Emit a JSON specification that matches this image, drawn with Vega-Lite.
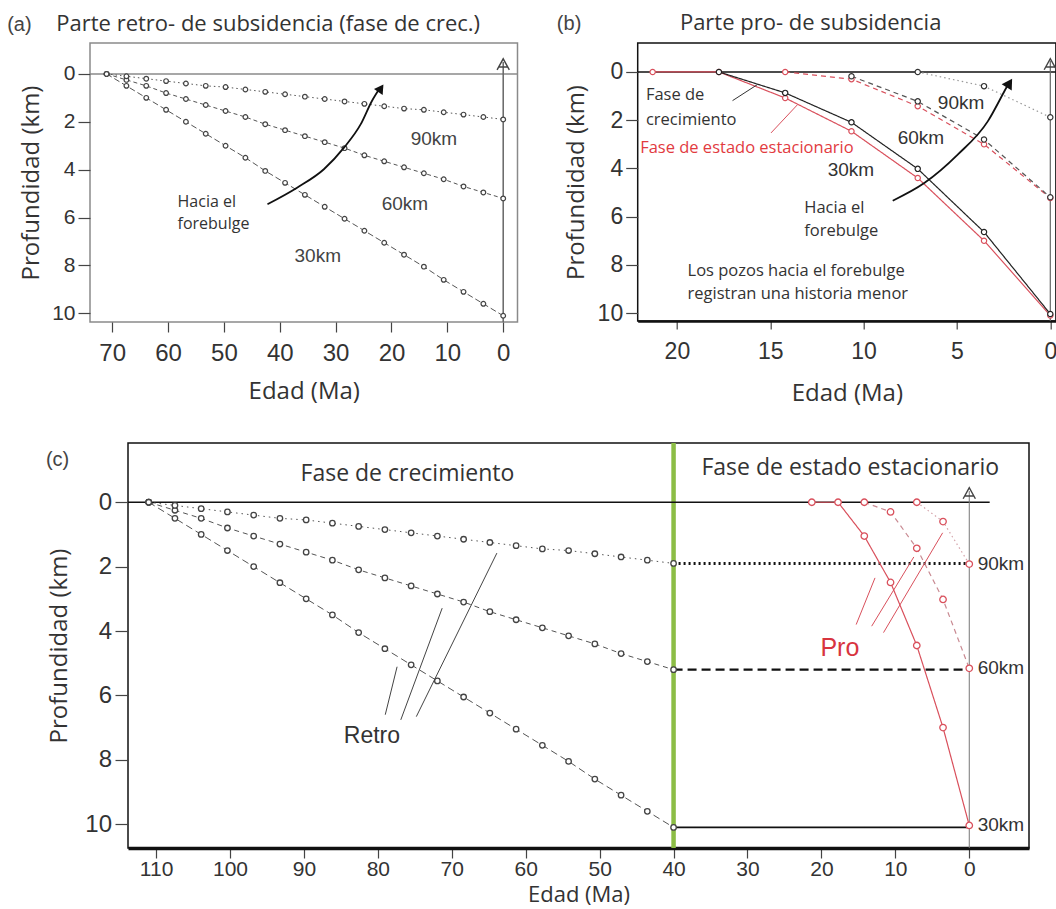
{
"$schema": "https://vega.github.io/schema/vega-lite/v6.json",
"padding": {"left": 6, "top": 11, "right": 0, "bottom": 0},
"autosize": {"type": "pad"},
"bounds": "flush",
"spacing": 400,
"config": {
  "font": "Liberation Sans",
  "view": {"stroke": "#111", "strokeWidth": 1.5},
  "axis": {"labelFont": "Liberation Sans", "labelColor": "#333", "titleFont": "Open Sans", "titleFontSize": 24, "titleFontWeight": "normal", "titleColor": "#333", "tickColor": "#444", "tickWidth": 1.2, "domain": false, "grid": false}
},
"datasets": {
  "retro": [
    {"well":"30km","age_a":71,"age_c":111,"depth":0},{"well":"30km","age_a":67.45,"age_c":107.45,"depth":0.5},{"well":"30km","age_a":63.9,"age_c":103.9,"depth":1.0},{"well":"30km","age_a":60.35,"age_c":100.35,"depth":1.5},{"well":"30km","age_a":56.8,"age_c":96.8,"depth":2.0},{"well":"30km","age_a":53.25,"age_c":93.25,"depth":2.5},{"well":"30km","age_a":49.7,"age_c":89.7,"depth":3.0},{"well":"30km","age_a":46.15,"age_c":86.15,"depth":3.5},{"well":"30km","age_a":42.6,"age_c":82.6,"depth":4.05},{"well":"30km","age_a":39.05,"age_c":79.05,"depth":4.55},{"well":"30km","age_a":35.5,"age_c":75.5,"depth":5.05},{"well":"30km","age_a":31.95,"age_c":71.95,"depth":5.55},{"well":"30km","age_a":28.4,"age_c":68.4,"depth":6.05},{"well":"30km","age_a":24.85,"age_c":64.85,"depth":6.55},{"well":"30km","age_a":21.3,"age_c":61.3,"depth":7.05},{"well":"30km","age_a":17.75,"age_c":57.75,"depth":7.55},{"well":"30km","age_a":14.2,"age_c":54.2,"depth":8.05},{"well":"30km","age_a":10.65,"age_c":50.65,"depth":8.6},{"well":"30km","age_a":7.1,"age_c":47.1,"depth":9.1},{"well":"30km","age_a":3.55,"age_c":43.55,"depth":9.6},{"well":"30km","age_a":0,"age_c":40,"depth":10.1},
    {"well":"60km","age_a":71,"age_c":111,"depth":0},{"well":"60km","age_a":67.45,"age_c":107.45,"depth":0.25},{"well":"60km","age_a":63.9,"age_c":103.9,"depth":0.5},{"well":"60km","age_a":60.35,"age_c":100.35,"depth":0.8},{"well":"60km","age_a":56.8,"age_c":96.8,"depth":1.05},{"well":"60km","age_a":53.25,"age_c":93.25,"depth":1.3},{"well":"60km","age_a":49.7,"age_c":89.7,"depth":1.55},{"well":"60km","age_a":46.15,"age_c":86.15,"depth":1.8},{"well":"60km","age_a":42.6,"age_c":82.6,"depth":2.1},{"well":"60km","age_a":39.05,"age_c":79.05,"depth":2.35},{"well":"60km","age_a":35.5,"age_c":75.5,"depth":2.6},{"well":"60km","age_a":31.95,"age_c":71.95,"depth":2.85},{"well":"60km","age_a":28.4,"age_c":68.4,"depth":3.1},{"well":"60km","age_a":24.85,"age_c":64.85,"depth":3.4},{"well":"60km","age_a":21.3,"age_c":61.3,"depth":3.65},{"well":"60km","age_a":17.75,"age_c":57.75,"depth":3.9},{"well":"60km","age_a":14.2,"age_c":54.2,"depth":4.15},{"well":"60km","age_a":10.65,"age_c":50.65,"depth":4.4},{"well":"60km","age_a":7.1,"age_c":47.1,"depth":4.7},{"well":"60km","age_a":3.55,"age_c":43.55,"depth":4.95},{"well":"60km","age_a":0,"age_c":40,"depth":5.2},
    {"well":"90km","age_a":71,"age_c":111,"depth":0},{"well":"90km","age_a":67.45,"age_c":107.45,"depth":0.1},{"well":"90km","age_a":63.9,"age_c":103.9,"depth":0.2},{"well":"90km","age_a":60.35,"age_c":100.35,"depth":0.3},{"well":"90km","age_a":56.8,"age_c":96.8,"depth":0.4},{"well":"90km","age_a":53.25,"age_c":93.25,"depth":0.5},{"well":"90km","age_a":49.7,"age_c":89.7,"depth":0.55},{"well":"90km","age_a":46.15,"age_c":86.15,"depth":0.65},{"well":"90km","age_a":42.6,"age_c":82.6,"depth":0.75},{"well":"90km","age_a":39.05,"age_c":79.05,"depth":0.85},{"well":"90km","age_a":35.5,"age_c":75.5,"depth":0.95},{"well":"90km","age_a":31.95,"age_c":71.95,"depth":1.05},{"well":"90km","age_a":28.4,"age_c":68.4,"depth":1.15},{"well":"90km","age_a":24.85,"age_c":64.85,"depth":1.25},{"well":"90km","age_a":21.3,"age_c":61.3,"depth":1.35},{"well":"90km","age_a":17.75,"age_c":57.75,"depth":1.45},{"well":"90km","age_a":14.2,"age_c":54.2,"depth":1.5},{"well":"90km","age_a":10.65,"age_c":50.65,"depth":1.6},{"well":"90km","age_a":7.1,"age_c":47.1,"depth":1.7},{"well":"90km","age_a":3.55,"age_c":43.55,"depth":1.8},{"well":"90km","age_a":0,"age_c":40,"depth":1.9}
  ],
  "pro": [
    {"panel":"b","line":"s30","age":21.3,"depth":0},{"panel":"b","line":"s30","age":17.75,"depth":0},{"panel":"b","line":"s30","age":14.2,"depth":1.08},{"panel":"b","line":"s30","age":10.65,"depth":2.46},{"panel":"b","line":"s30","age":7.1,"depth":4.4},{"panel":"b","line":"s30","age":3.55,"depth":7.0},{"panel":"b","line":"s30","age":0,"depth":10.1},
    {"panel":"b","line":"g30","age":17.75,"depth":0},{"panel":"b","line":"g30","age":14.2,"depth":0.87},{"panel":"b","line":"g30","age":10.65,"depth":2.09},{"panel":"b","line":"g30","age":7.1,"depth":4.02},{"panel":"b","line":"g30","age":3.55,"depth":6.64},{"panel":"b","line":"g30","age":0,"depth":10.04},
    {"panel":"b","line":"s60","age":14.2,"depth":0},{"panel":"b","line":"s60","age":10.65,"depth":0.3},{"panel":"b","line":"s60","age":7.1,"depth":1.42},{"panel":"b","line":"s60","age":3.55,"depth":3.0},{"panel":"b","line":"s60","age":0,"depth":5.23},
    {"panel":"b","line":"g60","age":10.65,"depth":0.18},{"panel":"b","line":"g60","age":7.1,"depth":1.22},{"panel":"b","line":"g60","age":3.55,"depth":2.8},{"panel":"b","line":"g60","age":0,"depth":5.2},
    {"panel":"b","line":"g90","age":7.1,"depth":0},{"panel":"b","line":"g90","age":3.55,"depth":0.59},{"panel":"b","line":"g90","age":0,"depth":1.88},
    {"panel":"c","line":"s30","age":21.3,"depth":0},{"panel":"c","line":"s30","age":17.75,"depth":0},{"panel":"c","line":"s30","age":14.2,"depth":1.05},{"panel":"c","line":"s30","age":10.65,"depth":2.49},{"panel":"c","line":"s30","age":7.1,"depth":4.45},{"panel":"c","line":"s30","age":3.55,"depth":7.0},{"panel":"c","line":"s30","age":0,"depth":10.04},
    {"panel":"c","line":"s60","age":14.2,"depth":0},{"panel":"c","line":"s60","age":10.65,"depth":0.3},{"panel":"c","line":"s60","age":7.1,"depth":1.43},{"panel":"c","line":"s60","age":3.55,"depth":3.02},{"panel":"c","line":"s60","age":0,"depth":5.16},
    {"panel":"c","line":"s90","age":7.1,"depth":0},{"panel":"c","line":"s90","age":3.55,"depth":0.6},{"panel":"c","line":"s90","age":0,"depth":1.92}
  ],
  "arrows": [
    {"panel":"a","ord":1,"age":42.2,"depth":5.44},{"panel":"a","ord":2,"age":36.9,"depth":4.75},{"panel":"a","ord":3,"age":32.1,"depth":3.98},{"panel":"a","ord":4,"age":28.5,"depth":3.08},{"panel":"a","ord":5,"age":25.5,"depth":2.1},{"panel":"a","ord":6,"age":23.5,"depth":1.13},{"panel":"a","ord":7,"age":22.1,"depth":0.6},
    {"panel":"b","ord":1,"age":8.44,"depth":5.34},{"panel":"b","ord":2,"age":6.75,"depth":4.61},{"panel":"b","ord":3,"age":4.96,"depth":3.43},{"panel":"b","ord":4,"age":3.35,"depth":2.05},{"panel":"b","ord":5,"age":2.46,"depth":0.8},{"panel":"b","ord":6,"age":2.25,"depth":0.5}
  ],
  "heads": [
    {"panel":"a","age":21.9,"depth":0.6},
    {"panel":"b","age":2.19,"depth":0.46}
  ],
  "leaders": [
    {"panel":"b","grp":"crec","a1":17.02,"d1":1.19,"a2":15.68,"d2":0.52},
    {"panel":"b","grp":"estac","a1":14.96,"d1":2.53,"a2":13.53,"d2":1.35},
    {"panel":"c","grp":"retro","a1":79.0,"d1":6.6,"a2":77.4,"d2":5.11},
    {"panel":"c","grp":"retro","a1":76.9,"d1":6.76,"a2":71.3,"d2":3.29},
    {"panel":"c","grp":"retro","a1":74.8,"d1":6.66,"a2":63.9,"d2":1.58},
    {"panel":"c","grp":"pro","a1":15.3,"d1":3.8,"a2":12.75,"d2":2.35},
    {"panel":"c","grp":"pro","a1":13.2,"d1":3.85,"a2":7.5,"d2":1.7},
    {"panel":"c","grp":"pro","a1":11.6,"d1":4.05,"a2":3.6,"d2":0.95}
  ],
  "hline": [
    {"well":"90km","a1":40,"a2":0,"depth":1.9},
    {"well":"60km","a1":40,"a2":0,"depth":5.2},
    {"well":"30km","a1":40,"a2":0,"depth":10.1}
  ],
  "notes": [
    {"panel":"a","grp":"tag","txt":"(a)","age":88.8,"depth":-1.8},
    {"panel":"a","grp":"title","txt":"Parte retro- de subsidencia (fase de crec.)","age":80.0,"depth":-1.8},
    {"panel":"a","grp":"km","txt":"90km","age":12.4,"depth":2.73},
    {"panel":"a","grp":"km","txt":"60km","age":17.6,"depth":5.44},
    {"panel":"a","grp":"km","txt":"30km","age":33.2,"depth":7.6},
    {"panel":"a","grp":"note","txt":"Hacia el","age":58.3,"depth":5.37},
    {"panel":"a","grp":"note","txt":"forebulge","age":58.3,"depth":6.28},
    {"panel":"b","grp":"tag","txt":"(b)","age":26.43,"depth":-1.73},
    {"panel":"b","grp":"title","txt":"Parte pro- de subsidencia","age":19.84,"depth":-1.73},
    {"panel":"b","grp":"note","txt":"Fase de","age":21.66,"depth":0.94},
    {"panel":"b","grp":"note","txt":"crecimiento","age":21.66,"depth":1.98},
    {"panel":"b","grp":"notered","txt":"Fase de estado estacionario","age":21.97,"depth":3.15},
    {"panel":"b","grp":"km","txt":"30km","age":10.68,"depth":4.05},
    {"panel":"b","grp":"km","txt":"60km","age":6.93,"depth":2.74},
    {"panel":"b","grp":"km","txt":"90km","age":4.78,"depth":1.29},
    {"panel":"b","grp":"note","txt":"Hacia el","age":13.18,"depth":5.64},
    {"panel":"b","grp":"note","txt":"forebulge","age":13.18,"depth":6.58},
    {"panel":"b","grp":"note","txt":"Los pozos hacia el forebulge","age":19.43,"depth":8.24},
    {"panel":"b","grp":"note","txt":"registran una historia menor","age":19.43,"depth":9.2},
    {"panel":"c","grp":"tag","txt":"(c)","age":124.9,"depth":-1.14},
    {"panel":"c","grp":"phase","txt":"Fase de crecimiento","age":76.0,"depth":-0.88},
    {"panel":"c","grp":"phase","txt":"Fase de estado estacionario","age":16.1,"depth":-1.07},
    {"panel":"c","grp":"retro","txt":"Retro","age":80.8,"depth":7.25},
    {"panel":"c","grp":"pro","txt":"Pro","age":17.5,"depth":4.53},
    {"panel":"c","grp":"kmc","txt":"90km","age":-1.14,"depth":1.92},
    {"panel":"c","grp":"kmc","txt":"60km","age":-1.14,"depth":5.16},
    {"panel":"c","grp":"kmc","txt":"30km","age":-1.14,"depth":10.04}
  ]
},
"vconcat": [
 {"hconcat": [
  {
   "width": 427.5, "height": 279,
   "view": {"stroke": "#8a8a8a", "strokeWidth": 1.5},
   "layer": [
    {"data": {"values": [{}]}, "mark": {"type": "rule", "color": "#8a8a8a", "strokeWidth": 1.5},
     "encoding": {"y": {"datum": 0, "type": "quantitative", "scale": {"domain": [-1.29, 10.36], "reverse": true, "nice": false, "zero": false}, "axis": {"values": [0,2,4,6,8,10], "title": "Profundidad (km)", "labelFontSize": 21, "tickSize": 12, "labelPadding": 3, "titlePadding": 8, "labelOverlap": false}}}},
    {"data": {"values": [{}]}, "mark": {"type": "rule", "color": "#666", "strokeWidth": 1.5},
     "encoding": {"x": {"datum": 0, "type": "quantitative", "scale": {"domain": [-2.56, 73.97], "reverse": true, "nice": false, "zero": false}, "axis": {"values": [70,60,50,40,30,20,10,0], "title": "Edad (Ma)", "labelFontSize": 24, "tickSize": 10, "labelPadding": 9, "titlePadding": 14, "labelFlush": false, "labelOverlap": false}},
      "y": {"datum": -0.5, "type": "quantitative", "scale": {"domain": [-1.29, 10.36], "reverse": true, "nice": false, "zero": false}, "axis": {"values": [0,2,4,6,8,10], "title": "Profundidad (km)", "labelFontSize": 21, "tickSize": 12, "labelPadding": 3, "titlePadding": 8, "labelOverlap": false}},
      "y2": {"datum": 10.36}}},
    {"data": {"values": [{}]}, "mark": {"type": "point", "shape": "M-1,0.9L0,-0.9L1,0.9M-0.8,0.45L0.8,0.45", "filled": false, "stroke": "#444", "strokeWidth": 1.4, "size": 150, "opacity": 1},
     "encoding": {"x": {"datum": 0, "type": "quantitative", "scale": {"domain": [-2.56, 73.97], "reverse": true, "nice": false, "zero": false}, "axis": {"values": [70,60,50,40,30,20,10,0], "title": "Edad (Ma)", "labelFontSize": 24, "tickSize": 10, "labelPadding": 9, "titlePadding": 14, "labelFlush": false, "labelOverlap": false}},
      "y": {"datum": -0.4, "type": "quantitative", "scale": {"domain": [-1.29, 10.36], "reverse": true, "nice": false, "zero": false}, "axis": {"values": [0,2,4,6,8,10], "title": "Profundidad (km)", "labelFontSize": 21, "tickSize": 12, "labelPadding": 3, "titlePadding": 8, "labelOverlap": false}}}},
    {"data": {"name": "retro"}, "mark": {"type": "line", "color": "#555", "strokeWidth": 1},
     "encoding": {"x": {"field": "age_a", "type": "quantitative", "scale": {"domain": [-2.56, 73.97], "reverse": true, "nice": false, "zero": false}, "axis": {"values": [70,60,50,40,30,20,10,0], "title": "Edad (Ma)", "labelFontSize": 24, "tickSize": 10, "labelPadding": 9, "titlePadding": 14, "labelFlush": false, "labelOverlap": false}},
      "y": {"field": "depth", "type": "quantitative", "scale": {"domain": [-1.29, 10.36], "reverse": true, "nice": false, "zero": false}, "axis": {"values": [0,2,4,6,8,10], "title": "Profundidad (km)", "labelFontSize": 21, "tickSize": 12, "labelPadding": 3, "titlePadding": 8, "labelOverlap": false}},
      "strokeDash": {"field": "well", "type": "nominal", "scale": {"domain": ["30km","60km","90km"], "range": [[6,3],[4,3],[1.5,3]]}, "legend": null}}},
    {"data": {"name": "retro"}, "mark": {"type": "point", "shape": "circle", "filled": true, "fill": "white", "stroke": "#444", "strokeWidth": 1.2, "size": 22, "opacity": 1},
     "encoding": {"x": {"field": "age_a", "type": "quantitative", "scale": {"domain": [-2.56, 73.97], "reverse": true, "nice": false, "zero": false}, "axis": {"values": [70,60,50,40,30,20,10,0], "title": "Edad (Ma)", "labelFontSize": 24, "tickSize": 10, "labelPadding": 9, "titlePadding": 14, "labelFlush": false, "labelOverlap": false}},
      "y": {"field": "depth", "type": "quantitative", "scale": {"domain": [-1.29, 10.36], "reverse": true, "nice": false, "zero": false}, "axis": {"values": [0,2,4,6,8,10], "title": "Profundidad (km)", "labelFontSize": 21, "tickSize": 12, "labelPadding": 3, "titlePadding": 8, "labelOverlap": false}}}},
    {"data": {"name": "arrows"}, "transform": [{"filter": "datum.panel === 'a'"}], "mark": {"type": "line", "color": "#111", "strokeWidth": 1.8, "interpolate": "monotone"},
     "encoding": {"x": {"field": "age", "type": "quantitative", "scale": {"domain": [-2.56, 73.97], "reverse": true, "nice": false, "zero": false}, "axis": {"values": [70,60,50,40,30,20,10,0], "title": "Edad (Ma)", "labelFontSize": 24, "tickSize": 10, "labelPadding": 9, "titlePadding": 14, "labelFlush": false, "labelOverlap": false}},
      "y": {"field": "depth", "type": "quantitative", "scale": {"domain": [-1.29, 10.36], "reverse": true, "nice": false, "zero": false}, "axis": {"values": [0,2,4,6,8,10], "title": "Profundidad (km)", "labelFontSize": 21, "tickSize": 12, "labelPadding": 3, "titlePadding": 8, "labelOverlap": false}},
      "order": {"field": "ord", "type": "quantitative"}}},
    {"data": {"name": "heads"}, "transform": [{"filter": "datum.panel === 'a'"}], "mark": {"type": "point", "shape": "triangle-up", "filled": true, "color": "#111", "size": 110, "angle": 34, "opacity": 1},
     "encoding": {"x": {"field": "age", "type": "quantitative", "scale": {"domain": [-2.56, 73.97], "reverse": true, "nice": false, "zero": false}, "axis": {"values": [70,60,50,40,30,20,10,0], "title": "Edad (Ma)", "labelFontSize": 24, "tickSize": 10, "labelPadding": 9, "titlePadding": 14, "labelFlush": false, "labelOverlap": false}},
      "y": {"field": "depth", "type": "quantitative", "scale": {"domain": [-1.29, 10.36], "reverse": true, "nice": false, "zero": false}, "axis": {"values": [0,2,4,6,8,10], "title": "Profundidad (km)", "labelFontSize": 21, "tickSize": 12, "labelPadding": 3, "titlePadding": 8, "labelOverlap": false}}}},
    {"data": {"name": "notes"}, "transform": [{"filter": "datum.panel === 'a' && datum.grp === 'km'"}], "mark": {"type": "text", "font": "Liberation Sans", "fontSize": 19, "color": "#444", "align": "center", "baseline": "middle"},
     "encoding": {"x": {"field": "age", "type": "quantitative", "scale": {"domain": [-2.56, 73.97], "reverse": true, "nice": false, "zero": false}, "axis": {"values": [70,60,50,40,30,20,10,0], "title": "Edad (Ma)", "labelFontSize": 24, "tickSize": 10, "labelPadding": 9, "titlePadding": 14, "labelFlush": false, "labelOverlap": false}},
      "y": {"field": "depth", "type": "quantitative", "scale": {"domain": [-1.29, 10.36], "reverse": true, "nice": false, "zero": false}, "axis": {"values": [0,2,4,6,8,10], "title": "Profundidad (km)", "labelFontSize": 21, "tickSize": 12, "labelPadding": 3, "titlePadding": 8, "labelOverlap": false}},
      "text": {"field": "txt"}}},
    {"data": {"name": "notes"}, "transform": [{"filter": "datum.panel === 'a' && datum.grp === 'note'"}], "mark": {"type": "text", "font": "Open Sans", "fontSize": 16, "color": "#333", "align": "left", "baseline": "middle"},
     "encoding": {"x": {"field": "age", "type": "quantitative", "scale": {"domain": [-2.56, 73.97], "reverse": true, "nice": false, "zero": false}, "axis": {"values": [70,60,50,40,30,20,10,0], "title": "Edad (Ma)", "labelFontSize": 24, "tickSize": 10, "labelPadding": 9, "titlePadding": 14, "labelFlush": false, "labelOverlap": false}},
      "y": {"field": "depth", "type": "quantitative", "scale": {"domain": [-1.29, 10.36], "reverse": true, "nice": false, "zero": false}, "axis": {"values": [0,2,4,6,8,10], "title": "Profundidad (km)", "labelFontSize": 21, "tickSize": 12, "labelPadding": 3, "titlePadding": 8, "labelOverlap": false}},
      "text": {"field": "txt"}}},
    {"data": {"name": "notes"}, "transform": [{"filter": "datum.panel === 'a' && datum.grp === 'title'"}], "mark": {"type": "text", "font": "Open Sans", "fontSize": 22, "color": "#333", "align": "left", "baseline": "alphabetic"},
     "encoding": {"x": {"field": "age", "type": "quantitative", "scale": {"domain": [-2.56, 73.97], "reverse": true, "nice": false, "zero": false}, "axis": {"values": [70,60,50,40,30,20,10,0], "title": "Edad (Ma)", "labelFontSize": 24, "tickSize": 10, "labelPadding": 9, "titlePadding": 14, "labelFlush": false, "labelOverlap": false}},
      "y": {"field": "depth", "type": "quantitative", "scale": {"domain": [-1.29, 10.36], "reverse": true, "nice": false, "zero": false}, "axis": {"values": [0,2,4,6,8,10], "title": "Profundidad (km)", "labelFontSize": 21, "tickSize": 12, "labelPadding": 3, "titlePadding": 8, "labelOverlap": false}},
      "text": {"field": "txt"}}},
    {"data": {"name": "notes"}, "transform": [{"filter": "datum.panel === 'a' && datum.grp === 'tag'"}], "mark": {"type": "text", "font": "Liberation Sans", "fontSize": 20, "color": "#444", "align": "left", "baseline": "alphabetic"},
     "encoding": {"x": {"field": "age", "type": "quantitative", "scale": {"domain": [-2.56, 73.97], "reverse": true, "nice": false, "zero": false}, "axis": {"values": [70,60,50,40,30,20,10,0], "title": "Edad (Ma)", "labelFontSize": 24, "tickSize": 10, "labelPadding": 9, "titlePadding": 14, "labelFlush": false, "labelOverlap": false}},
      "y": {"field": "depth", "type": "quantitative", "scale": {"domain": [-1.29, 10.36], "reverse": true, "nice": false, "zero": false}, "axis": {"values": [0,2,4,6,8,10], "title": "Profundidad (km)", "labelFontSize": 21, "tickSize": 12, "labelPadding": 3, "titlePadding": 8, "labelOverlap": false}},
      "text": {"field": "txt"}}}
   ]
  },
  {
   "width": 418.2, "height": 278,
   "view": {"stroke": "#111", "strokeWidth": 1.5},
   "resolve": {"scale": {"color": "independent", "stroke": "independent", "strokeDash": "independent"}},
   "layer": [
    {"data": {"values": [{}]}, "mark": {"type": "rule", "color": "#111", "strokeWidth": 1.5},
     "encoding": {"y": {"datum": 0, "type": "quantitative", "scale": {"domain": [-1.2, 10.33], "reverse": true, "nice": false, "zero": false}, "axis": {"values": [0,2,4,6,8,10], "title": "Profundidad (km)", "labelFontSize": 23, "tickSize": 12, "labelPadding": 3, "titlePadding": 9, "labelOverlap": false}}}},
    {"data": {"values": [{}]}, "mark": {"type": "rule", "color": "#666", "strokeWidth": 1.2},
     "encoding": {"x": {"datum": 0, "type": "quantitative", "scale": {"domain": [-0.3, 22.1], "reverse": true, "nice": false, "zero": false}, "axis": {"values": [20,15,10,5,0], "title": "Edad (Ma)", "labelFontSize": 23, "tickSize": 8, "labelPadding": 11, "titlePadding": 18, "labelFlush": false, "labelOverlap": false, "domain": true, "domainColor": "#111", "domainWidth": 2.5}},
      "y": {"datum": -0.45, "type": "quantitative", "scale": {"domain": [-1.2, 10.33], "reverse": true, "nice": false, "zero": false}, "axis": {"values": [0,2,4,6,8,10], "title": "Profundidad (km)", "labelFontSize": 23, "tickSize": 12, "labelPadding": 3, "titlePadding": 9, "labelOverlap": false}},
      "y2": {"datum": 10.33}}},
    {"data": {"values": [{}]}, "mark": {"type": "point", "shape": "M-1,0.9L0,-0.9L1,0.9M-0.8,0.45L0.8,0.45", "filled": false, "stroke": "#444", "strokeWidth": 1.4, "size": 150, "opacity": 1},
     "encoding": {"x": {"datum": 0, "type": "quantitative", "scale": {"domain": [-0.3, 22.1], "reverse": true, "nice": false, "zero": false}, "axis": {"values": [20,15,10,5,0], "title": "Edad (Ma)", "labelFontSize": 23, "tickSize": 8, "labelPadding": 11, "titlePadding": 18, "labelFlush": false, "labelOverlap": false, "domain": true, "domainColor": "#111", "domainWidth": 2.5}},
      "y": {"datum": -0.32, "type": "quantitative", "scale": {"domain": [-1.2, 10.33], "reverse": true, "nice": false, "zero": false}, "axis": {"values": [0,2,4,6,8,10], "title": "Profundidad (km)", "labelFontSize": 23, "tickSize": 12, "labelPadding": 3, "titlePadding": 9, "labelOverlap": false}}}},
    {"data": {"name": "pro"}, "transform": [{"filter": "datum.panel === 'b'"}], "mark": {"type": "line", "strokeWidth": 1.2},
     "encoding": {"x": {"field": "age", "type": "quantitative", "scale": {"domain": [-0.3, 22.1], "reverse": true, "nice": false, "zero": false}, "axis": {"values": [20,15,10,5,0], "title": "Edad (Ma)", "labelFontSize": 23, "tickSize": 8, "labelPadding": 11, "titlePadding": 18, "labelFlush": false, "labelOverlap": false, "domain": true, "domainColor": "#111", "domainWidth": 2.5}},
      "y": {"field": "depth", "type": "quantitative", "scale": {"domain": [-1.2, 10.33], "reverse": true, "nice": false, "zero": false}, "axis": {"values": [0,2,4,6,8,10], "title": "Profundidad (km)", "labelFontSize": 23, "tickSize": 12, "labelPadding": 3, "titlePadding": 9, "labelOverlap": false}},
      "color": {"field": "line", "type": "nominal", "scale": {"domain": ["s30","g30","s60","g60","g90"], "range": ["#d9505c","#222222","#d9505c","#555555","#999999"]}, "legend": null},
      "strokeDash": {"field": "line", "type": "nominal", "scale": {"domain": ["s30","g30","s60","g60","g90"], "range": [[1,0],[1,0],[5,4],[5,4],[1.5,3]]}, "legend": null}}},
    {"data": {"name": "pro"}, "transform": [{"filter": "datum.panel === 'b'"}], "mark": {"type": "point", "shape": "circle", "filled": true, "fill": "white", "strokeWidth": 1.2, "size": 28, "opacity": 1},
     "encoding": {"x": {"field": "age", "type": "quantitative", "scale": {"domain": [-0.3, 22.1], "reverse": true, "nice": false, "zero": false}, "axis": {"values": [20,15,10,5,0], "title": "Edad (Ma)", "labelFontSize": 23, "tickSize": 8, "labelPadding": 11, "titlePadding": 18, "labelFlush": false, "labelOverlap": false, "domain": true, "domainColor": "#111", "domainWidth": 2.5}},
      "y": {"field": "depth", "type": "quantitative", "scale": {"domain": [-1.2, 10.33], "reverse": true, "nice": false, "zero": false}, "axis": {"values": [0,2,4,6,8,10], "title": "Profundidad (km)", "labelFontSize": 23, "tickSize": 12, "labelPadding": 3, "titlePadding": 9, "labelOverlap": false}},
      "stroke": {"field": "line", "type": "nominal", "scale": {"domain": ["s30","g30","s60","g60","g90"], "range": ["#d9505c","#222222","#d9505c","#333333","#333333"]}, "legend": null}}},
    {"data": {"name": "leaders"}, "transform": [{"filter": "datum.panel === 'b'"}], "mark": {"type": "rule", "strokeWidth": 1},
     "encoding": {"x": {"field": "a1", "type": "quantitative", "scale": {"domain": [-0.3, 22.1], "reverse": true, "nice": false, "zero": false}, "axis": {"values": [20,15,10,5,0], "title": "Edad (Ma)", "labelFontSize": 23, "tickSize": 8, "labelPadding": 11, "titlePadding": 18, "labelFlush": false, "labelOverlap": false, "domain": true, "domainColor": "#111", "domainWidth": 2.5}},
      "y": {"field": "d1", "type": "quantitative", "scale": {"domain": [-1.2, 10.33], "reverse": true, "nice": false, "zero": false}, "axis": {"values": [0,2,4,6,8,10], "title": "Profundidad (km)", "labelFontSize": 23, "tickSize": 12, "labelPadding": 3, "titlePadding": 9, "labelOverlap": false}},
      "x2": {"field": "a2"}, "y2": {"field": "d2"},
      "color": {"field": "grp", "type": "nominal", "scale": {"domain": ["crec","estac"], "range": ["#333333","#d9505c"]}, "legend": null}}},
    {"data": {"name": "arrows"}, "transform": [{"filter": "datum.panel === 'b'"}], "mark": {"type": "line", "color": "#111", "strokeWidth": 1.8, "interpolate": "monotone"},
     "encoding": {"x": {"field": "age", "type": "quantitative", "scale": {"domain": [-0.3, 22.1], "reverse": true, "nice": false, "zero": false}, "axis": {"values": [20,15,10,5,0], "title": "Edad (Ma)", "labelFontSize": 23, "tickSize": 8, "labelPadding": 11, "titlePadding": 18, "labelFlush": false, "labelOverlap": false, "domain": true, "domainColor": "#111", "domainWidth": 2.5}},
      "y": {"field": "depth", "type": "quantitative", "scale": {"domain": [-1.2, 10.33], "reverse": true, "nice": false, "zero": false}, "axis": {"values": [0,2,4,6,8,10], "title": "Profundidad (km)", "labelFontSize": 23, "tickSize": 12, "labelPadding": 3, "titlePadding": 9, "labelOverlap": false}},
      "order": {"field": "ord", "type": "quantitative"}}},
    {"data": {"name": "heads"}, "transform": [{"filter": "datum.panel === 'b'"}], "mark": {"type": "point", "shape": "triangle-up", "filled": true, "color": "#111", "size": 140, "angle": 32, "opacity": 1},
     "encoding": {"x": {"field": "age", "type": "quantitative", "scale": {"domain": [-0.3, 22.1], "reverse": true, "nice": false, "zero": false}, "axis": {"values": [20,15,10,5,0], "title": "Edad (Ma)", "labelFontSize": 23, "tickSize": 8, "labelPadding": 11, "titlePadding": 18, "labelFlush": false, "labelOverlap": false, "domain": true, "domainColor": "#111", "domainWidth": 2.5}},
      "y": {"field": "depth", "type": "quantitative", "scale": {"domain": [-1.2, 10.33], "reverse": true, "nice": false, "zero": false}, "axis": {"values": [0,2,4,6,8,10], "title": "Profundidad (km)", "labelFontSize": 23, "tickSize": 12, "labelPadding": 3, "titlePadding": 9, "labelOverlap": false}}}},
    {"data": {"name": "notes"}, "transform": [{"filter": "datum.panel === 'b' && datum.grp === 'km'"}], "mark": {"type": "text", "font": "Liberation Sans", "fontSize": 19, "color": "#333", "align": "center", "baseline": "middle"},
     "encoding": {"x": {"field": "age", "type": "quantitative", "scale": {"domain": [-0.3, 22.1], "reverse": true, "nice": false, "zero": false}, "axis": {"values": [20,15,10,5,0], "title": "Edad (Ma)", "labelFontSize": 23, "tickSize": 8, "labelPadding": 11, "titlePadding": 18, "labelFlush": false, "labelOverlap": false, "domain": true, "domainColor": "#111", "domainWidth": 2.5}},
      "y": {"field": "depth", "type": "quantitative", "scale": {"domain": [-1.2, 10.33], "reverse": true, "nice": false, "zero": false}, "axis": {"values": [0,2,4,6,8,10], "title": "Profundidad (km)", "labelFontSize": 23, "tickSize": 12, "labelPadding": 3, "titlePadding": 9, "labelOverlap": false}},
      "text": {"field": "txt"}}},
    {"data": {"name": "notes"}, "transform": [{"filter": "datum.panel === 'b' && datum.grp === 'note'"}], "mark": {"type": "text", "font": "Open Sans", "fontSize": 16.5, "color": "#333", "align": "left", "baseline": "middle"},
     "encoding": {"x": {"field": "age", "type": "quantitative", "scale": {"domain": [-0.3, 22.1], "reverse": true, "nice": false, "zero": false}, "axis": {"values": [20,15,10,5,0], "title": "Edad (Ma)", "labelFontSize": 23, "tickSize": 8, "labelPadding": 11, "titlePadding": 18, "labelFlush": false, "labelOverlap": false, "domain": true, "domainColor": "#111", "domainWidth": 2.5}},
      "y": {"field": "depth", "type": "quantitative", "scale": {"domain": [-1.2, 10.33], "reverse": true, "nice": false, "zero": false}, "axis": {"values": [0,2,4,6,8,10], "title": "Profundidad (km)", "labelFontSize": 23, "tickSize": 12, "labelPadding": 3, "titlePadding": 9, "labelOverlap": false}},
      "text": {"field": "txt"}}},
    {"data": {"name": "notes"}, "transform": [{"filter": "datum.panel === 'b' && datum.grp === 'notered'"}], "mark": {"type": "text", "font": "Open Sans", "fontSize": 16.5, "color": "#e23b3f", "align": "left", "baseline": "middle"},
     "encoding": {"x": {"field": "age", "type": "quantitative", "scale": {"domain": [-0.3, 22.1], "reverse": true, "nice": false, "zero": false}, "axis": {"values": [20,15,10,5,0], "title": "Edad (Ma)", "labelFontSize": 23, "tickSize": 8, "labelPadding": 11, "titlePadding": 18, "labelFlush": false, "labelOverlap": false, "domain": true, "domainColor": "#111", "domainWidth": 2.5}},
      "y": {"field": "depth", "type": "quantitative", "scale": {"domain": [-1.2, 10.33], "reverse": true, "nice": false, "zero": false}, "axis": {"values": [0,2,4,6,8,10], "title": "Profundidad (km)", "labelFontSize": 23, "tickSize": 12, "labelPadding": 3, "titlePadding": 9, "labelOverlap": false}},
      "text": {"field": "txt"}}},
    {"data": {"name": "notes"}, "transform": [{"filter": "datum.panel === 'b' && datum.grp === 'title'"}], "mark": {"type": "text", "font": "Open Sans", "fontSize": 22, "color": "#333", "align": "left", "baseline": "alphabetic"},
     "encoding": {"x": {"field": "age", "type": "quantitative", "scale": {"domain": [-0.3, 22.1], "reverse": true, "nice": false, "zero": false}, "axis": {"values": [20,15,10,5,0], "title": "Edad (Ma)", "labelFontSize": 23, "tickSize": 8, "labelPadding": 11, "titlePadding": 18, "labelFlush": false, "labelOverlap": false, "domain": true, "domainColor": "#111", "domainWidth": 2.5}},
      "y": {"field": "depth", "type": "quantitative", "scale": {"domain": [-1.2, 10.33], "reverse": true, "nice": false, "zero": false}, "axis": {"values": [0,2,4,6,8,10], "title": "Profundidad (km)", "labelFontSize": 23, "tickSize": 12, "labelPadding": 3, "titlePadding": 9, "labelOverlap": false}},
      "text": {"field": "txt"}}},
    {"data": {"name": "notes"}, "transform": [{"filter": "datum.panel === 'b' && datum.grp === 'tag'"}], "mark": {"type": "text", "font": "Liberation Sans", "fontSize": 20, "color": "#444", "align": "left", "baseline": "alphabetic"},
     "encoding": {"x": {"field": "age", "type": "quantitative", "scale": {"domain": [-0.3, 22.1], "reverse": true, "nice": false, "zero": false}, "axis": {"values": [20,15,10,5,0], "title": "Edad (Ma)", "labelFontSize": 23, "tickSize": 8, "labelPadding": 11, "titlePadding": 18, "labelFlush": false, "labelOverlap": false, "domain": true, "domainColor": "#111", "domainWidth": 2.5}},
      "y": {"field": "depth", "type": "quantitative", "scale": {"domain": [-1.2, 10.33], "reverse": true, "nice": false, "zero": false}, "axis": {"values": [0,2,4,6,8,10], "title": "Profundidad (km)", "labelFontSize": 23, "tickSize": 12, "labelPadding": 3, "titlePadding": 9, "labelOverlap": false}},
      "text": {"field": "txt"}}}
   ]
  }
 ], "spacing": 119.7, "bounds": "flush"},
 {"hconcat": [
  {"width": 1.2, "height": 10, "view": {"stroke": null}, "data": {"values": [{}]}, "mark": {"type": "text", "text": ""}, "encoding": {}},
  {
   "width": 901, "height": 405,
   "view": {"stroke": "#111", "strokeWidth": 1.5},
   "resolve": {"scale": {"color": "independent", "stroke": "independent", "strokeDash": "independent", "strokeWidth": "independent"}},
   "layer": [
    {"data": {"values": [{}]}, "mark": {"type": "rule", "color": "#8cbd45", "strokeWidth": 4.5},
     "encoding": {"x": {"datum": 40, "type": "quantitative", "scale": {"domain": [-8.08, 113.8], "reverse": true, "nice": false, "zero": false}, "axis": {"values": [110,100,90,80,70,60,50,40,30,20,10,0], "title": "Edad (Ma)", "labelFontSize": 21, "tickSize": 10, "labelPadding": 0, "titlePadding": 5, "titleFontSize": 22, "labelFlush": false, "labelOverlap": false, "domain": true, "domainColor": "#111", "domainWidth": 3.5}}}},
    {"data": {"values": [{}]}, "mark": {"type": "rule", "color": "#111", "strokeWidth": 1.5},
     "encoding": {"x": {"datum": 113.8, "type": "quantitative", "scale": {"domain": [-8.08, 113.8], "reverse": true, "nice": false, "zero": false}, "axis": {"values": [110,100,90,80,70,60,50,40,30,20,10,0], "title": "Edad (Ma)", "labelFontSize": 21, "tickSize": 10, "labelPadding": 0, "titlePadding": 5, "titleFontSize": 22, "labelFlush": false, "labelOverlap": false, "domain": true, "domainColor": "#111", "domainWidth": 3.5}},
      "x2": {"datum": -2.76},
      "y": {"datum": 0, "type": "quantitative", "scale": {"domain": [-1.84, 10.74], "reverse": true, "nice": false, "zero": false}, "axis": {"values": [0,2,4,6,8,10], "title": "Profundidad (km)", "labelFontSize": 24, "tickSize": 13, "labelPadding": 3.5, "titlePadding": 13, "labelOverlap": false}}}},
    {"data": {"values": [{}]}, "mark": {"type": "rule", "color": "#777", "strokeWidth": 1},
     "encoding": {"x": {"datum": 0, "type": "quantitative", "scale": {"domain": [-8.08, 113.8], "reverse": true, "nice": false, "zero": false}, "axis": {"values": [110,100,90,80,70,60,50,40,30,20,10,0], "title": "Edad (Ma)", "labelFontSize": 21, "tickSize": 10, "labelPadding": 0, "titlePadding": 5, "titleFontSize": 22, "labelFlush": false, "labelOverlap": false, "domain": true, "domainColor": "#111", "domainWidth": 3.5}},
      "y": {"datum": -0.35, "type": "quantitative", "scale": {"domain": [-1.84, 10.74], "reverse": true, "nice": false, "zero": false}, "axis": {"values": [0,2,4,6,8,10], "title": "Profundidad (km)", "labelFontSize": 24, "tickSize": 13, "labelPadding": 3.5, "titlePadding": 13, "labelOverlap": false}},
      "y2": {"datum": 10.74}}},
    {"data": {"values": [{}]}, "mark": {"type": "point", "shape": "M-1,0.9L0,-0.9L1,0.9M-0.8,0.45L0.8,0.45", "filled": false, "stroke": "#444", "strokeWidth": 1.4, "size": 150, "opacity": 1},
     "encoding": {"x": {"datum": 0, "type": "quantitative", "scale": {"domain": [-8.08, 113.8], "reverse": true, "nice": false, "zero": false}, "axis": {"values": [110,100,90,80,70,60,50,40,30,20,10,0], "title": "Edad (Ma)", "labelFontSize": 21, "tickSize": 10, "labelPadding": 0, "titlePadding": 5, "titleFontSize": 22, "labelFlush": false, "labelOverlap": false, "domain": true, "domainColor": "#111", "domainWidth": 3.5}},
      "y": {"datum": -0.28, "type": "quantitative", "scale": {"domain": [-1.84, 10.74], "reverse": true, "nice": false, "zero": false}, "axis": {"values": [0,2,4,6,8,10], "title": "Profundidad (km)", "labelFontSize": 24, "tickSize": 13, "labelPadding": 3.5, "titlePadding": 13, "labelOverlap": false}}}},
    {"data": {"name": "hline"}, "mark": {"type": "rule", "color": "#111"},
     "encoding": {"x": {"field": "a1", "type": "quantitative", "scale": {"domain": [-8.08, 113.8], "reverse": true, "nice": false, "zero": false}, "axis": {"values": [110,100,90,80,70,60,50,40,30,20,10,0], "title": "Edad (Ma)", "labelFontSize": 21, "tickSize": 10, "labelPadding": 0, "titlePadding": 5, "titleFontSize": 22, "labelFlush": false, "labelOverlap": false, "domain": true, "domainColor": "#111", "domainWidth": 3.5}},
      "x2": {"field": "a2"},
      "y": {"field": "depth", "type": "quantitative", "scale": {"domain": [-1.84, 10.74], "reverse": true, "nice": false, "zero": false}, "axis": {"values": [0,2,4,6,8,10], "title": "Profundidad (km)", "labelFontSize": 24, "tickSize": 13, "labelPadding": 3.5, "titlePadding": 13, "labelOverlap": false}},
      "strokeDash": {"field": "well", "type": "nominal", "scale": {"domain": ["30km","60km","90km"], "range": [[1,0],[9,5],[2,3]]}, "legend": null},
      "strokeWidth": {"field": "well", "type": "nominal", "scale": {"domain": ["30km","60km","90km"], "range": [1.6,3,2.2]}, "legend": null}}},
    {"data": {"name": "retro"}, "mark": {"type": "line", "color": "#555", "strokeWidth": 1},
     "encoding": {"x": {"field": "age_c", "type": "quantitative", "scale": {"domain": [-8.08, 113.8], "reverse": true, "nice": false, "zero": false}, "axis": {"values": [110,100,90,80,70,60,50,40,30,20,10,0], "title": "Edad (Ma)", "labelFontSize": 21, "tickSize": 10, "labelPadding": 0, "titlePadding": 5, "titleFontSize": 22, "labelFlush": false, "labelOverlap": false, "domain": true, "domainColor": "#111", "domainWidth": 3.5}},
      "y": {"field": "depth", "type": "quantitative", "scale": {"domain": [-1.84, 10.74], "reverse": true, "nice": false, "zero": false}, "axis": {"values": [0,2,4,6,8,10], "title": "Profundidad (km)", "labelFontSize": 24, "tickSize": 13, "labelPadding": 3.5, "titlePadding": 13, "labelOverlap": false}},
      "strokeDash": {"field": "well", "type": "nominal", "scale": {"domain": ["30km","60km","90km"], "range": [[7,4],[5,4],[1.5,4]]}, "legend": null}}},
    {"data": {"name": "retro"}, "mark": {"type": "point", "shape": "circle", "filled": true, "fill": "white", "stroke": "#444", "strokeWidth": 1.3, "size": 30, "opacity": 1},
     "encoding": {"x": {"field": "age_c", "type": "quantitative", "scale": {"domain": [-8.08, 113.8], "reverse": true, "nice": false, "zero": false}, "axis": {"values": [110,100,90,80,70,60,50,40,30,20,10,0], "title": "Edad (Ma)", "labelFontSize": 21, "tickSize": 10, "labelPadding": 0, "titlePadding": 5, "titleFontSize": 22, "labelFlush": false, "labelOverlap": false, "domain": true, "domainColor": "#111", "domainWidth": 3.5}},
      "y": {"field": "depth", "type": "quantitative", "scale": {"domain": [-1.84, 10.74], "reverse": true, "nice": false, "zero": false}, "axis": {"values": [0,2,4,6,8,10], "title": "Profundidad (km)", "labelFontSize": 24, "tickSize": 13, "labelPadding": 3.5, "titlePadding": 13, "labelOverlap": false}}}},
    {"data": {"name": "pro"}, "transform": [{"filter": "datum.panel === 'c'"}], "mark": {"type": "line", "strokeWidth": 1.2},
     "encoding": {"x": {"field": "age", "type": "quantitative", "scale": {"domain": [-8.08, 113.8], "reverse": true, "nice": false, "zero": false}, "axis": {"values": [110,100,90,80,70,60,50,40,30,20,10,0], "title": "Edad (Ma)", "labelFontSize": 21, "tickSize": 10, "labelPadding": 0, "titlePadding": 5, "titleFontSize": 22, "labelFlush": false, "labelOverlap": false, "domain": true, "domainColor": "#111", "domainWidth": 3.5}},
      "y": {"field": "depth", "type": "quantitative", "scale": {"domain": [-1.84, 10.74], "reverse": true, "nice": false, "zero": false}, "axis": {"values": [0,2,4,6,8,10], "title": "Profundidad (km)", "labelFontSize": 24, "tickSize": 13, "labelPadding": 3.5, "titlePadding": 13, "labelOverlap": false}},
      "color": {"field": "line", "type": "nominal", "scale": {"domain": ["s30","s60","s90"], "range": ["#d9505c","#c98a92","#d4a3aa"]}, "legend": null},
      "strokeDash": {"field": "line", "type": "nominal", "scale": {"domain": ["s30","s60","s90"], "range": [[1,0],[5,4],[1.5,3]]}, "legend": null}}},
    {"data": {"name": "pro"}, "transform": [{"filter": "datum.panel === 'c'"}], "mark": {"type": "point", "shape": "circle", "filled": true, "fill": "white", "stroke": "#d9505c", "strokeWidth": 1.3, "size": 42, "opacity": 1},
     "encoding": {"x": {"field": "age", "type": "quantitative", "scale": {"domain": [-8.08, 113.8], "reverse": true, "nice": false, "zero": false}, "axis": {"values": [110,100,90,80,70,60,50,40,30,20,10,0], "title": "Edad (Ma)", "labelFontSize": 21, "tickSize": 10, "labelPadding": 0, "titlePadding": 5, "titleFontSize": 22, "labelFlush": false, "labelOverlap": false, "domain": true, "domainColor": "#111", "domainWidth": 3.5}},
      "y": {"field": "depth", "type": "quantitative", "scale": {"domain": [-1.84, 10.74], "reverse": true, "nice": false, "zero": false}, "axis": {"values": [0,2,4,6,8,10], "title": "Profundidad (km)", "labelFontSize": 24, "tickSize": 13, "labelPadding": 3.5, "titlePadding": 13, "labelOverlap": false}}}},
    {"data": {"name": "leaders"}, "transform": [{"filter": "datum.panel === 'c'"}], "mark": {"type": "rule", "strokeWidth": 1},
     "encoding": {"x": {"field": "a1", "type": "quantitative", "scale": {"domain": [-8.08, 113.8], "reverse": true, "nice": false, "zero": false}, "axis": {"values": [110,100,90,80,70,60,50,40,30,20,10,0], "title": "Edad (Ma)", "labelFontSize": 21, "tickSize": 10, "labelPadding": 0, "titlePadding": 5, "titleFontSize": 22, "labelFlush": false, "labelOverlap": false, "domain": true, "domainColor": "#111", "domainWidth": 3.5}},
      "y": {"field": "d1", "type": "quantitative", "scale": {"domain": [-1.84, 10.74], "reverse": true, "nice": false, "zero": false}, "axis": {"values": [0,2,4,6,8,10], "title": "Profundidad (km)", "labelFontSize": 24, "tickSize": 13, "labelPadding": 3.5, "titlePadding": 13, "labelOverlap": false}},
      "x2": {"field": "a2"}, "y2": {"field": "d2"},
      "color": {"field": "grp", "type": "nominal", "scale": {"domain": ["retro","pro"], "range": ["#444444","#d9505c"]}, "legend": null}}},
    {"data": {"name": "notes"}, "transform": [{"filter": "datum.panel === 'c' && datum.grp === 'phase'"}], "mark": {"type": "text", "font": "Open Sans", "fontSize": 23, "color": "#333", "align": "center", "baseline": "middle"},
     "encoding": {"x": {"field": "age", "type": "quantitative", "scale": {"domain": [-8.08, 113.8], "reverse": true, "nice": false, "zero": false}, "axis": {"values": [110,100,90,80,70,60,50,40,30,20,10,0], "title": "Edad (Ma)", "labelFontSize": 21, "tickSize": 10, "labelPadding": 0, "titlePadding": 5, "titleFontSize": 22, "labelFlush": false, "labelOverlap": false, "domain": true, "domainColor": "#111", "domainWidth": 3.5}},
      "y": {"field": "depth", "type": "quantitative", "scale": {"domain": [-1.84, 10.74], "reverse": true, "nice": false, "zero": false}, "axis": {"values": [0,2,4,6,8,10], "title": "Profundidad (km)", "labelFontSize": 24, "tickSize": 13, "labelPadding": 3.5, "titlePadding": 13, "labelOverlap": false}},
      "text": {"field": "txt"}}},
    {"data": {"name": "notes"}, "transform": [{"filter": "datum.panel === 'c' && datum.grp === 'retro'"}], "mark": {"type": "text", "font": "Liberation Sans", "fontSize": 23, "color": "#333", "align": "center", "baseline": "middle"},
     "encoding": {"x": {"field": "age", "type": "quantitative", "scale": {"domain": [-8.08, 113.8], "reverse": true, "nice": false, "zero": false}, "axis": {"values": [110,100,90,80,70,60,50,40,30,20,10,0], "title": "Edad (Ma)", "labelFontSize": 21, "tickSize": 10, "labelPadding": 0, "titlePadding": 5, "titleFontSize": 22, "labelFlush": false, "labelOverlap": false, "domain": true, "domainColor": "#111", "domainWidth": 3.5}},
      "y": {"field": "depth", "type": "quantitative", "scale": {"domain": [-1.84, 10.74], "reverse": true, "nice": false, "zero": false}, "axis": {"values": [0,2,4,6,8,10], "title": "Profundidad (km)", "labelFontSize": 24, "tickSize": 13, "labelPadding": 3.5, "titlePadding": 13, "labelOverlap": false}},
      "text": {"field": "txt"}}},
    {"data": {"name": "notes"}, "transform": [{"filter": "datum.panel === 'c' && datum.grp === 'pro'"}], "mark": {"type": "text", "font": "Liberation Sans", "fontSize": 25, "color": "#d8343f", "align": "center", "baseline": "middle"},
     "encoding": {"x": {"field": "age", "type": "quantitative", "scale": {"domain": [-8.08, 113.8], "reverse": true, "nice": false, "zero": false}, "axis": {"values": [110,100,90,80,70,60,50,40,30,20,10,0], "title": "Edad (Ma)", "labelFontSize": 21, "tickSize": 10, "labelPadding": 0, "titlePadding": 5, "titleFontSize": 22, "labelFlush": false, "labelOverlap": false, "domain": true, "domainColor": "#111", "domainWidth": 3.5}},
      "y": {"field": "depth", "type": "quantitative", "scale": {"domain": [-1.84, 10.74], "reverse": true, "nice": false, "zero": false}, "axis": {"values": [0,2,4,6,8,10], "title": "Profundidad (km)", "labelFontSize": 24, "tickSize": 13, "labelPadding": 3.5, "titlePadding": 13, "labelOverlap": false}},
      "text": {"field": "txt"}}},
    {"data": {"name": "notes"}, "transform": [{"filter": "datum.panel === 'c' && datum.grp === 'kmc'"}], "mark": {"type": "text", "font": "Liberation Sans", "fontSize": 19, "color": "#333", "align": "left", "baseline": "middle"},
     "encoding": {"x": {"field": "age", "type": "quantitative", "scale": {"domain": [-8.08, 113.8], "reverse": true, "nice": false, "zero": false}, "axis": {"values": [110,100,90,80,70,60,50,40,30,20,10,0], "title": "Edad (Ma)", "labelFontSize": 21, "tickSize": 10, "labelPadding": 0, "titlePadding": 5, "titleFontSize": 22, "labelFlush": false, "labelOverlap": false, "domain": true, "domainColor": "#111", "domainWidth": 3.5}},
      "y": {"field": "depth", "type": "quantitative", "scale": {"domain": [-1.84, 10.74], "reverse": true, "nice": false, "zero": false}, "axis": {"values": [0,2,4,6,8,10], "title": "Profundidad (km)", "labelFontSize": 24, "tickSize": 13, "labelPadding": 3.5, "titlePadding": 13, "labelOverlap": false}},
      "text": {"field": "txt"}}},
    {"data": {"name": "notes"}, "transform": [{"filter": "datum.panel === 'c' && datum.grp === 'tag'"}], "mark": {"type": "text", "font": "Liberation Sans", "fontSize": 20, "color": "#444", "align": "left", "baseline": "alphabetic"},
     "encoding": {"x": {"field": "age", "type": "quantitative", "scale": {"domain": [-8.08, 113.8], "reverse": true, "nice": false, "zero": false}, "axis": {"values": [110,100,90,80,70,60,50,40,30,20,10,0], "title": "Edad (Ma)", "labelFontSize": 21, "tickSize": 10, "labelPadding": 0, "titlePadding": 5, "titleFontSize": 22, "labelFlush": false, "labelOverlap": false, "domain": true, "domainColor": "#111", "domainWidth": 3.5}},
      "y": {"field": "depth", "type": "quantitative", "scale": {"domain": [-1.84, 10.74], "reverse": true, "nice": false, "zero": false}, "axis": {"values": [0,2,4,6,8,10], "title": "Profundidad (km)", "labelFontSize": 24, "tickSize": 13, "labelPadding": 3.5, "titlePadding": 13, "labelOverlap": false}},
      "text": {"field": "txt"}}}
   ]
  }
 ], "spacing": 36, "bounds": "flush"}
]
}
